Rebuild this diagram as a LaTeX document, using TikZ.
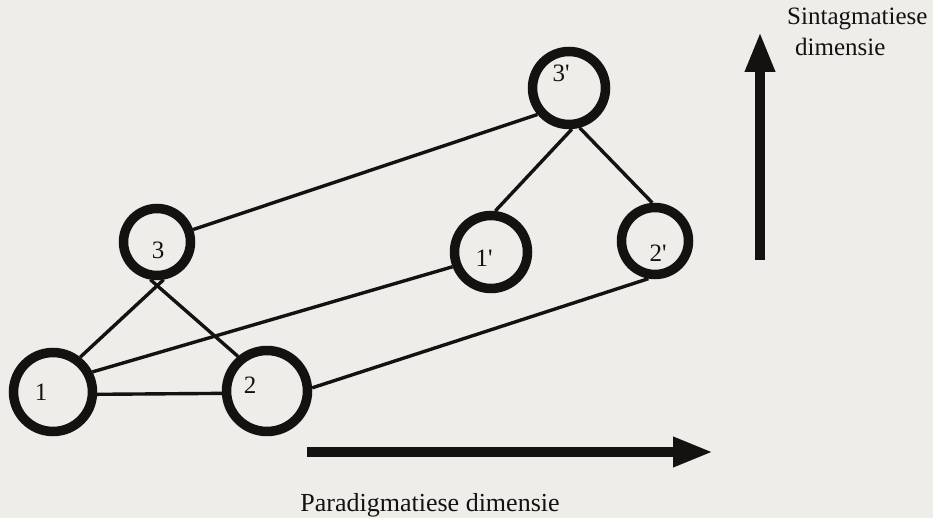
\documentclass[tikz,border=0pt]{standalone}
\usepackage{fontspec}
\setmainfont{Liberation Serif}
\usetikzlibrary{arrows.meta}
\definecolor{paper}{HTML}{EEEDE9}
\definecolor{ink}{HTML}{141210}
\begin{document}
\begin{tikzpicture}[x=1pt,y=-1pt,
  ring/.style={circle, draw=ink, line width=9.5pt, inner sep=0pt, minimum size=#1},
  lbl/.style={font=\fontsize{25}{30}\selectfont, text=ink, inner sep=0pt},
  link/.style={draw=ink, line width=3.4pt},
  bigarrow/.style={draw=ink, fill=ink, line width=9.5pt, -{Triangle[length=40pt,width=28pt]}}]
\fill[paper] (0,0) rectangle (933,518);
\useasboundingbox (0,0) rectangle (933,518);
% rings
\node[ring=79pt] (n1) at (53,392) {};
\node[ring=81pt] (n2) at (267,391) {};
\node[ring=67pt] (n3) at (157,242) {};
\node[ring=73pt] (m1) at (491,252) {};
\node[ring=67pt] (m2) at (655,241) {};
\node[ring=73pt] (m3) at (569,88) {};
% labels
\node[lbl] (t1) at (41,392) {1};
\node[lbl] (t2) at (250,385) {2};
\node[lbl] (t3) at (158,250) {3};
\node[lbl] (u1) at (484,258) {1\textquotesingle};
\node[lbl] (u2) at (658,253) {2\textquotesingle};
\node[lbl] (u3) at (561,73) {3\textquotesingle};
% links
\draw[link] (n3.-80) -- (n1.52);
\draw[link] (n3.-100) -- (n2.130);
\draw[link] (n1.-3) -- (n2.-177);
\draw[link] (n1.27) -- (m1.-159);
\draw[link] (n2.4) -- (m2.-100);
\draw[link] (n3.19) -- (m3.-140);
\draw[link] (m3.-86) -- (m1.84);
\draw[link] (m3.-75) -- (m2.94);
% axes
\coordinate (ha) at (307,452);
\coordinate (hb) at (713,452);
\coordinate (va) at (760,260);
\coordinate (vb) at (760,32);
\draw[bigarrow] (ha) -- (hb);
\draw[bigarrow] (va) -- (vb);
\node[lbl, anchor=base west] (ts1) at (787,25) {Sintagmatiese};
\node[lbl, anchor=base west] (ts2) at (795,56) {dimensie};
\node[lbl, anchor=base, font=\fontsize{26}{30}\selectfont] (tp) at (430,511) {Paradigmatiese dimensie};
\end{tikzpicture}
\end{document}
